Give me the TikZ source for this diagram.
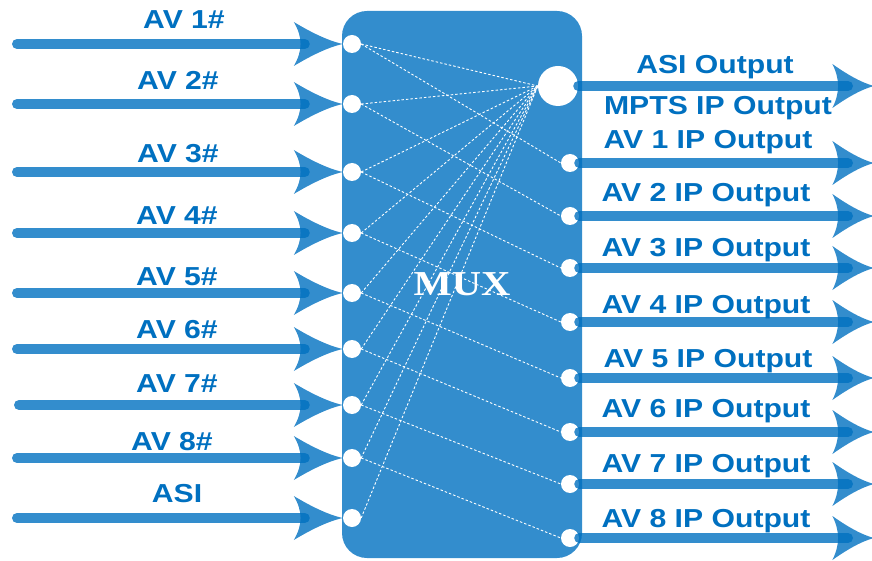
\documentclass[tikz,border=0pt]{standalone}
\usepackage{fontspec}
\newfontfamily\labelfont{Liberation Sans}
\newfontfamily\muxfont{Liberation Serif}
\definecolor{office}{HTML}{0070C0}
\newcommand{\wide}[1]{\scalebox{1.16}[1]{#1}}
\tikzset{
  port/.style={circle,fill=white,inner sep=0pt,minimum size=18pt},
  feed/.style={draw=office,draw opacity=0.8,line width=10pt,line cap=round},
  wire/.style={white,line width=0.9pt,dash pattern=on 2.5pt off 2pt},
  lbl/.style={text=office,font=\labelfont\bfseries\fontsize{26}{28}\selectfont,anchor=base,inner sep=0pt},
  flare/.pic={\fill[office,fill opacity=0.8] (0,0) .. controls (-16,-3.5) and (-34,-13) .. (-49,-22) .. controls (-40,-7) and (-40,7) .. (-49,22) .. controls (-34,13) and (-16,3.5) .. (0,0);}
}
\begin{document}
\begin{tikzpicture}[x=1pt,y=-1pt]
\useasboundingbox (0,0) rectangle (872,561);
\node[fill=office!80,rounded corners=25pt,minimum width=240pt,minimum height=547pt,text=white,font=\muxfont\bfseries\fontsize{35}{40}\selectfont] (mux) at (462,284.5) {\wide{MUX}};
% ports
\node[port] (i1) at (352,44) {};
\node[port] (i2) at (352,104) {};
\node[port] (i3) at (352,172) {};
\node[port] (i4) at (352,233) {};
\node[port] (i5) at (352,293) {};
\node[port] (i6) at (352,349) {};
\node[port] (i7) at (352,405) {};
\node[port] (i8) at (352,458) {};
\node[port] (iasi) at (352,518) {};
\node[port,minimum size=40pt] (big) at (558,86) {};
\node[port] (o1) at (570,163) {};
\node[port] (o2) at (570,216) {};
\node[port] (o3) at (570,268) {};
\node[port] (o4) at (570,322) {};
\node[port] (o5) at (570,378) {};
\node[port] (o6) at (570,432) {};
\node[port] (o7) at (570,484) {};
\node[port] (o8) at (570,538) {};
% dashed paths inside
\draw[wire] (i1.east) -- (big.west);\draw[wire] (i1.east) -- (o1.west);
\draw[wire] (i2.east) -- (big.west);\draw[wire] (i2.east) -- (o2.west);
\draw[wire] (i3.east) -- (big.west);\draw[wire] (i3.east) -- (o3.west);
\draw[wire] (i4.east) -- (big.west);\draw[wire] (i4.east) -- (o4.west);
\draw[wire] (i5.east) -- (big.west);\draw[wire] (i5.east) -- (o5.west);
\draw[wire] (i6.east) -- (big.west);\draw[wire] (i6.east) -- (o6.west);
\draw[wire] (i7.east) -- (big.west);\draw[wire] (i7.east) -- (o7.west);
\draw[wire] (i8.east) -- (big.west);\draw[wire] (i8.east) -- (o8.west);
\draw[wire] (iasi.east) -- (big.west);
% inputs
\coordinate (s1) at (17,44);\coordinate (s2) at (17,104);\coordinate (s3) at (17,172);
\coordinate (s4) at (17,233);\coordinate (s5) at (17,293);\coordinate (s6) at (17,349);
\coordinate (s7) at (19,405);\coordinate (s8) at (17,458);\coordinate (sasi) at (17,518);
\draw[feed] (s1) -- ([xshift=-38pt]i1.west);\pic at (i1.west) {flare};
\draw[feed] (s2) -- ([xshift=-38pt]i2.west);\pic at (i2.west) {flare};
\draw[feed] (s3) -- ([xshift=-38pt]i3.west);\pic at (i3.west) {flare};
\draw[feed] (s4) -- ([xshift=-38pt]i4.west);\pic at (i4.west) {flare};
\draw[feed] (s5) -- ([xshift=-38pt]i5.west);\pic at (i5.west) {flare};
\draw[feed] (s6) -- ([xshift=-38pt]i6.west);\pic at (i6.west) {flare};
\draw[feed] (s7) -- ([xshift=-38pt]i7.west);\pic at (i7.west) {flare};
\draw[feed] (s8) -- ([xshift=-38pt]i8.west);\pic at (i8.west) {flare};
\draw[feed] (sasi) -- ([xshift=-38pt]iasi.west);\pic at (iasi.west) {flare};
% outputs
\coordinate (tasi) at (874,86);
\coordinate (t1) at (874,163);\coordinate (t2) at (874,216);\coordinate (t3) at (874,268);
\coordinate (t4) at (874,322);\coordinate (t5) at (874,378);\coordinate (t6) at (874,432);
\coordinate (t7) at (874,484);\coordinate (t8) at (874,538);
\draw[feed] (big.east) -- ([xshift=-26pt]tasi);\pic[xscale=.85] at (tasi) {flare};
\draw[feed] (o1.east) -- ([xshift=-26pt]t1);\pic[xscale=.85] at (t1) {flare};
\draw[feed] (o2.east) -- ([xshift=-26pt]t2);\pic[xscale=.85] at (t2) {flare};
\draw[feed] (o3.east) -- ([xshift=-26pt]t3);\pic[xscale=.85] at (t3) {flare};
\draw[feed] (o4.east) -- ([xshift=-26pt]t4);\pic[xscale=.85] at (t4) {flare};
\draw[feed] (o5.east) -- ([xshift=-26pt]t5);\pic[xscale=.85] at (t5) {flare};
\draw[feed] (o6.east) -- ([xshift=-26pt]t6);\pic[xscale=.85] at (t6) {flare};
\draw[feed] (o7.east) -- ([xshift=-26pt]t7);\pic[xscale=.85] at (t7) {flare};
\draw[feed] (o8.east) -- ([xshift=-26pt]t8);\pic[xscale=.85] at (t8) {flare};
% labels
\node[lbl] (l1) at (184,29) {\wide{AV 1\#}};
\node[lbl] (l2) at (178,90) {\wide{AV 2\#}};
\node[lbl] (l3) at (178,163) {\wide{AV 3\#}};
\node[lbl] (l4) at (177,225) {\wide{AV 4\#}};
\node[lbl] (l5) at (177,285) {\wide{AV 5\#}};
\node[lbl] (l6) at (177,338) {\wide{AV 6\#}};
\node[lbl] (l7) at (177,392) {\wide{AV 7\#}};
\node[lbl] (l8) at (172,450) {\wide{AV 8\#}};
\node[lbl] (lasi) at (177,502) {\wide{ASI}};
\node[lbl] (masi) at (715,74) {\wide{ASI Output}};
\node[lbl] (mmpts) at (718,115) {\wide{MPTS IP Output}};
\node[lbl] (m1) at (708,149) {\wide{AV 1 IP Output}};
\node[lbl] (m2) at (706,202) {\wide{AV 2 IP Output}};
\node[lbl] (m3) at (706,257) {\wide{AV 3 IP Output}};
\node[lbl] (m4) at (706,313) {\wide{AV 4 IP Output}};
\node[lbl] (m5) at (708,367) {\wide{AV 5 IP Output}};
\node[lbl] (m6) at (706,417) {\wide{AV 6 IP Output}};
\node[lbl] (m7) at (706,472) {\wide{AV 7 IP Output}};
\node[lbl] (m8) at (706,527) {\wide{AV 8 IP Output}};
\end{tikzpicture}
\end{document}
